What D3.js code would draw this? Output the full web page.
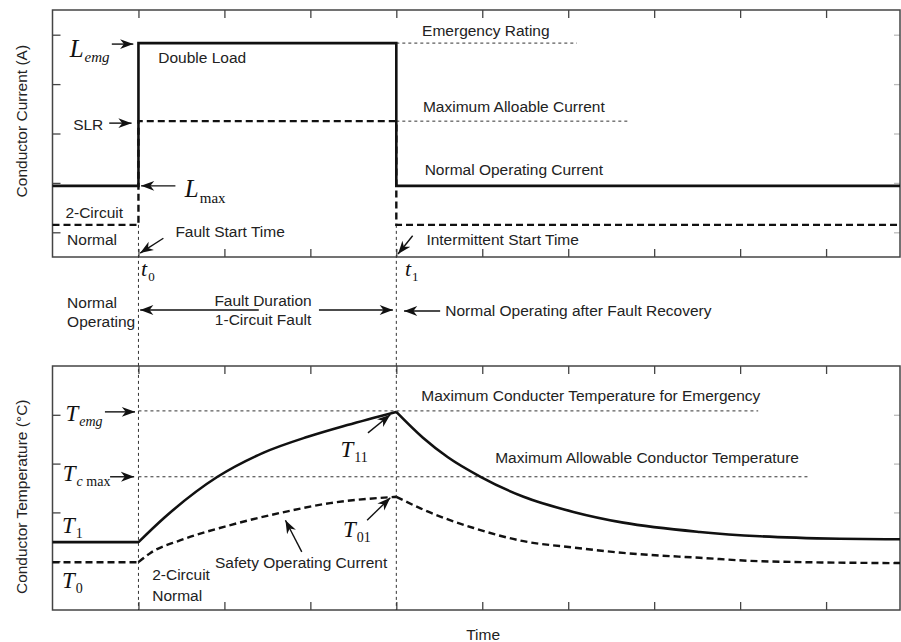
<!DOCTYPE html>
<html>
<head>
<meta charset="utf-8">
<script src="https://d3js.org/d3.v7.min.js"></script>
<style>
  body { margin: 0; background: #fff; }
  svg { display: block; }
  .lbl { font-family: "Liberation Sans", Arial, sans-serif; font-size: 15.5px; fill: #222; }
  .math { font-family: "Liberation Serif", "Times New Roman", serif; fill: #111; }
  .frame { fill: none; stroke: #444; stroke-width: 1.5px; }
  .tick line { stroke: #444; stroke-width: 1.3px; }
  .ref { stroke: #333; stroke-width: 1px; stroke-dasharray: 3 3; fill: none; }
  .arrow { stroke: #111; stroke-width: 1.4px; fill: none; }
</style>
</head>
<body>
<svg id="chart" width="901" height="642"></svg>
<script>
'use strict';
//Tick positions along the time axis and the two value axes.
const timeTicks = [1, 2, 3, 4, 5, 6, 7, 8, 9];
const currentTicks = [0.5, 1.5, 2.5, 3.5, 4.5];
const tempTicks = [1, 2, 3, 4];
const tFault = 1; //Fault start time t0.
const tRecover = 4; //Intermittent start time t1.
const tEnd = 9.86;

//Conductor current (upper panel).
const currentX = [0, 1, 1, 4, 4, 9.86];
const currentSolid = [1.44, 1.44, 4.33, 4.33, 1.44, 1.44];
const currentDashed = [0.65, 0.65, 2.75, 2.75, 0.65, 0.65];
const emergencyRating = 4.33;
const maxAllowCurrent = 2.75;

//Conductor temperature (lower panel).
const tempSolidX = [0, 1, 1.3, 1.92, 2.45, 2.97, 3.43, 4, 4.31, 4.6, 4.98, 5.48, 6.06, 6.64, 7.53, 8.23, 9.16, 9.86];
const tempSolidY = [1.39, 1.39, 1.89, 2.73, 3.22, 3.55, 3.79, 4.06, 3.53, 3.13, 2.73, 2.32, 2.01, 1.79, 1.6, 1.51, 1.46, 1.45];
const tempDashedX = [0, 1, 1.14, 1.49, 2.07, 2.65, 3.23, 4, 4.31, 4.9, 5.48, 6.06, 6.64, 7.53, 8.23, 9.86];
const tempDashedY = [0.98, 0.98, 1.17, 1.43, 1.74, 1.99, 2.19, 2.32, 2.06, 1.68, 1.41, 1.28, 1.17, 1.07, 1.0, 0.96];
const tempEmg = 4.08;
const tempCmax = 2.73;

const svg = d3.select('#chart');

const x = d3.scaleLinear().domain([0, tEnd]).range([52.5, 900]);
const yCur = d3.scaleLinear().domain([0, 5]).range([257, 10]);
const yTemp = d3.scaleLinear().domain([0, 5]).range([610, 366]);

//Arrow head marker.
svg.append('defs').append('marker')
	.attr('id', 'head')
	.attr('viewBox', '0 -5 12 10')
	.attr('refX', 12)
	.attr('refY', 0)
	.attr('markerUnits', 'userSpaceOnUse')
	.attr('markerWidth', 14)
	.attr('markerHeight', 11)
	.attr('orient', 'auto')
	.append('path')
	.attr('d', 'M0,-4.5L12,0L0,4.5L3.5,0Z')
	.attr('fill', '#111');

//Draw a panel frame with inner ticks on all four sides.
function panel(y, yTicks) {
	const g = svg.append('g');
	const [y0, y1] = y.range();
	const [x0, x1] = x.range();
	g.append('g').attr('transform', `translate(0,${y1})`)
		.call(d3.axisTop(x).tickValues(timeTicks).tickSize(-8).tickFormat(''));
	g.append('g').attr('transform', `translate(0,${y0})`)
		.call(d3.axisBottom(x).tickValues(timeTicks).tickSize(-8).tickFormat(''));
	g.append('g').attr('transform', `translate(${x0},0)`)
		.call(d3.axisLeft(y).tickValues(yTicks).tickSize(-8).tickFormat(''));
	g.append('g').attr('class', 'right').attr('transform', `translate(${x1},0)`)
		.call(d3.axisRight(y).tickValues(yTicks).tickSize(-6).tickFormat(''));
	g.selectAll('.domain').remove();
	g.selectAll('.right line').style('stroke', '#bbb');
	g.append('rect').attr('class', 'frame')
		.attr('x', x0).attr('y', y1)
		.attr('width', x1 - x0).attr('height', y0 - y1);
	return g;
}
panel(yCur, currentTicks);
panel(yTemp, tempTicks);

//Vertical dotted guides at t0 and t1.
[tFault, tRecover].forEach(t => {
	svg.append('line').attr('class', 'ref')
		.attr('x1', x(t)).attr('x2', x(t))
		.attr('y1', yCur(currentDashed[0])).attr('y2', yTemp(0));
});

//Thin dotted reference levels.
function refLine(y, xa, xb, v) {
	svg.append('line').attr('class', 'ref')
		.attr('x1', x(xa)).attr('x2', x(xb))
		.attr('y1', y(v)).attr('y2', y(v));
}
refLine(yCur, tRecover, 6.1, emergencyRating);
refLine(yCur, tRecover, 6.69, maxAllowCurrent);
refLine(yTemp, tFault, 8.21, tempEmg);
refLine(yTemp, tFault, 8.79, tempCmax);

//Current step lines.
const stepLine = d3.line().x(d => x(d[0])).y(d => yCur(d[1]));
svg.append('path')
	.attr('d', stepLine(d3.zip(currentX, currentDashed)))
	.attr('fill', 'none').attr('stroke', '#111')
	.attr('stroke-width', 2.4).attr('stroke-dasharray', '7 4');
svg.append('path')
	.attr('d', stepLine(d3.zip(currentX, currentSolid)))
	.attr('fill', 'none').attr('stroke', '#111').attr('stroke-width', 2.6);

//Temperature curves, split at t0 and t1 so the corners stay sharp.
const curve = d3.line().x(d => x(d[0])).y(d => yTemp(d[1])).curve(d3.curveMonotoneX);
function segPath(xs, ys) {
	const pts = d3.zip(xs, ys);
	const parts = [
		pts.filter(p => p[0] <= tFault),
		pts.filter(p => p[0] >= tFault && p[0] <= tRecover),
		pts.filter(p => p[0] >= tRecover)
	];
	return parts.map(p => curve(p)).join('');
}
svg.append('path')
	.attr('d', segPath(tempDashedX, tempDashedY))
	.attr('fill', 'none').attr('stroke', '#111')
	.attr('stroke-width', 2.4).attr('stroke-dasharray', '7 4');
svg.append('path')
	.attr('d', segPath(tempSolidX, tempSolidY))
	.attr('fill', 'none').attr('stroke', '#111').attr('stroke-width', 2.6);

//Plain text labels: [text, time, value, scale, anchor].
const midRow = v => v; //Middle band uses pixel rows.
const textLabels = [
	['Double Load', 1.23, 3.93, yCur, 'start'],
	['SLR', 0.24, 2.57, yCur, 'start'],
	['2-Circuit', 0.15, 0.79, yCur, 'start'],
	['Normal', 0.17, 0.24, yCur, 'start'],
	['Fault Start Time', 1.43, 0.40, yCur, 'start'],
	['Emergency Rating', 4.30, 4.47, yCur, 'start'],
	['Maximum Alloable Current', 4.31, 2.94, yCur, 'start'],
	['Normal Operating Current', 4.33, 1.66, yCur, 'start'],
	['Intermittent Start Time', 4.35, 0.24, yCur, 'start'],
	['Normal', 0.17, 308, midRow, 'start'],
	['Operating', 0.17, 327, midRow, 'start'],
	['Fault Duration', 2.45, 306, midRow, 'middle'],
	['1-Circuit Fault', 2.45, 325, midRow, 'middle'],
	['Normal Operating after Fault Recovery', 4.57, 316, midRow, 'start'],
	['2-Circuit', 1.16, 0.61, yTemp, 'start'],
	['Normal', 1.16, 0.18, yTemp, 'start'],
	['Safety Operating Current', 1.89, 0.86, yTemp, 'start'],
	['Maximum Conducter Temperature for Emergency', 4.29, 4.28, yTemp, 'start'],
	['Maximum Allowable Conductor Temperature', 5.15, 3.01, yTemp, 'start'],
	['Time', 5.01, 640, midRow, 'middle']
];
textLabels.forEach(([t, tx, v, s, a]) => {
	svg.append('text').attr('class', 'lbl')
		.attr('x', x(tx)).attr('y', s(v))
		.attr('text-anchor', a).text(t);
});

//Axis titles.
svg.append('text').attr('class', 'lbl')
	.attr('transform', `translate(27,${yCur(2.75)}) rotate(-90)`)
	.attr('text-anchor', 'middle').text('Conductor Current (A)');
svg.append('text').attr('class', 'lbl')
	.attr('transform', `translate(27,${yTemp(2.32)}) rotate(-90)`)
	.attr('text-anchor', 'middle').text('Conductor Temperature (°C)');

//Math labels: [main, subscript parts [text, italic], time, value, scale, size].
const mathLabels = [
	['L', [['emg', true]], 0.20, 4.05, yCur, 25],
	['L', [['max', false]], 1.54, 1.21, yCur, 25],
	['t', [['0', false]], 1.03, 276, midRow, 22],
	['t', [['1', false]], 4.10, 276, midRow, 22],
	['T', [['emg', true]], 0.15, 3.87, yTemp, 23],
	['T', [['c', true], [' max', false]], 0.12, 2.64, yTemp, 23],
	['T', [['1', false]], 0.11, 1.58, yTemp, 23],
	['T', [['0', false]], 0.11, 0.45, yTemp, 23],
	['T', [['11', false]], 3.35, 3.14, yTemp, 23],
	['T', [['01', false]], 3.38, 1.50, yTemp, 23]
];
mathLabels.forEach(([m, subs, tx, v, s, size]) => {
	const t = svg.append('text').attr('class', 'math')
		.attr('x', x(tx)).attr('y', s(v))
		.style('font-size', size + 'px');
	t.append('tspan').style('font-style', 'italic').text(m);
	subs.forEach(([st, it], i) => {
		t.append('tspan')
			.attr('dy', i === 0 ? size * 0.22 : 0)
			.attr('dx', i === 0 ? 1 : 0)
			.style('font-size', Math.round(size * 0.6) + 'px')
			.style('font-style', it ? 'italic' : 'normal')
			.text(st);
	});
});

//Arrows: [from time, from value, to time, to value, scale].
const arrows = [
	[0.69, 4.31, 0.94, 4.31, yCur],
	[0.66, 2.71, 0.92, 2.71, yCur],
	[1.43, 1.44, 1.03, 1.44, yCur],
	[1.29, 0.38, 1.02, 0.08, yCur],
	[4.19, 0.43, 4.02, 0.06, yCur],
	[2.40, 310, 1.02, 310, midRow],
	[3.10, 310, 3.96, 310, midRow],
	[4.51, 311, 4.09, 311, midRow],
	[0.61, 4.06, 0.96, 4.06, yTemp],
	[0.67, 2.73, 0.95, 2.73, yTemp],
	[3.67, 3.63, 3.93, 4.00, yTemp],
	[3.66, 1.84, 3.93, 2.30, yTemp],
	[2.90, 1.19, 2.71, 1.84, yTemp]
];
arrows.forEach(([xa, va, xb, vb, s]) => {
	svg.append('line').attr('class', 'arrow')
		.attr('x1', x(xa)).attr('y1', s(va))
		.attr('x2', x(xb)).attr('y2', s(vb))
		.attr('marker-end', 'url(#head)');
});
</script>
</body>
</html>
